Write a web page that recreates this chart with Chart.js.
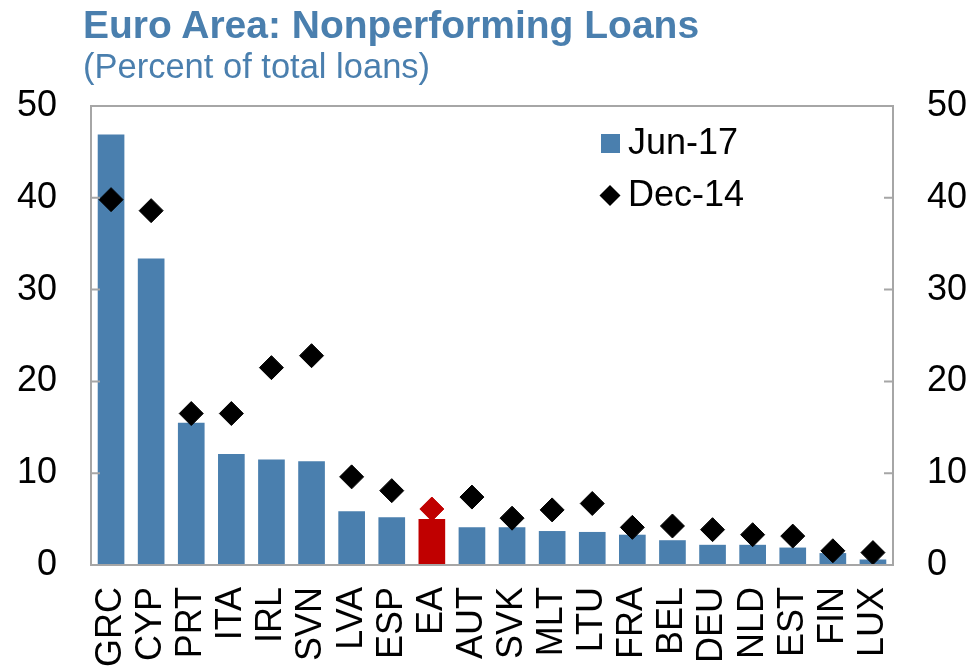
<!DOCTYPE html>
<html>
<head>
<meta charset="utf-8">
<script src="https://cdn.jsdelivr.net/npm/chart.js@4"></script>
<style>
  body { margin: 0; background: #fff; }
  #wrap { position: relative; width: 972px; height: 671px; }
  .title { position: absolute; left: 83px; font-family: "Liberation Sans", Arial, sans-serif; color: #4a7fae; line-height: 1; white-space: nowrap; }
  #t1 { top: 5px; font-size: 39px; font-weight: bold; }
  #t2 { top: 49px; font-size: 34.5px; }
</style>
</head>
<body>
<div id="wrap">
  <canvas id="nplChart" width="972" height="671"></canvas>
  <div class="title" id="t1">Euro Area: Nonperforming Loans</div>
  <div class="title" id="t2">(Percent of total loans)</div>
</div>
<script>
const categories = ['GRC', 'CYP', 'PRT', 'ITA', 'IRL', 'SVN', 'LVA', 'ESP', 'EA', 'AUT',
    'SVK', 'MLT', 'LTU', 'FRA', 'BEL', 'DEU', 'NLD', 'EST', 'FIN', 'LUX'];
const jun17 = [46.9, 33.4, 15.5, 12.1, 11.5, 11.3, 5.85, 5.2, 5.0, 4.1,
    4.1, 3.7, 3.6, 3.3, 2.7, 2.2, 2.2, 1.9, 1.3, 0.6];
const dec14 = [39.8, 38.6, 16.5, 16.5, 21.5, 22.8, 9.6, 8.1, 6.1, 7.4,
    5.1, 6.0, 6.7, 4.1, 4.25, 3.85, 3.3, 3.15, 1.55, 1.35];
const yTicks = [0, 10, 20, 30, 40, 50];

const BLUE = '#4a7fae';
const RED = '#c00000';
const FONT = '"Liberation Sans", Arial, sans-serif';

const barColors = categories.map(c => c === 'EA' ? RED : BLUE);
const pointColors = categories.map(c => c === 'EA' ? RED : '#000000');

// frame around the plot plus inward tick marks
const framePlugin = {
    id: 'frame',
    afterDraw(chart) {
        const { ctx, chartArea: a, scales } = chart;
        ctx.save();
        ctx.strokeStyle = '#a6a6a6';
        ctx.lineWidth = 2;
        ctx.strokeRect(a.left, a.top, a.right - a.left, a.bottom - a.top);
        ctx.beginPath();
        yTicks.forEach(v => {
            const y = scales.y.getPixelForValue(v);
            ctx.moveTo(a.left, y);
            ctx.lineTo(a.left + 9, y);
            ctx.moveTo(a.right, y);
            ctx.lineTo(a.right - 9, y);
        });
        ctx.stroke();
        ctx.restore();
    }
};

// legend in the upper right of the plot
const legendPlugin = {
    id: 'boxLegend',
    afterDraw(chart) {
        const { ctx } = chart;
        const ds = chart.data.datasets;
        const bar = ds.find(d => d.type === 'bar');
        const pts = ds.find(d => d.type === 'line');
        ctx.save();
        ctx.font = '36px ' + FONT;
        ctx.textBaseline = 'middle';
        ctx.fillStyle = BLUE;
        ctx.fillRect(601, 134, 19, 19);
        ctx.fillStyle = '#000';
        ctx.fillText(bar.label, 628, 144);
        ctx.beginPath();
        ctx.moveTo(610, 185);
        ctx.lineTo(620.5, 195.5);
        ctx.lineTo(610, 206);
        ctx.lineTo(599.5, 195.5);
        ctx.closePath();
        ctx.fill();
        ctx.fillText(pts.label, 628, 196);
        ctx.restore();
    }
};

const ctx = document.getElementById('nplChart').getContext('2d');

new Chart(ctx, {
    data: {
        labels: categories,
        datasets: [{
            type: 'line',
            label: 'Dec-14',
            data: dec14,
            showLine: false,
            pointStyle: 'rectRot',
            pointRadius: 12,
            pointBackgroundColor: pointColors,
            pointBorderColor: pointColors,
            pointBorderWidth: 1,
            order: 0,
        }, {
            type: 'bar',
            label: 'Jun-17',
            data: jun17,
            backgroundColor: barColors,
            barPercentage: 0.665,
            categoryPercentage: 1,
            order: 1,
        }]
    },
    options: {
        responsive: false,
        animation: false,
        layout: { padding: { top: 106, left: 0, right: 0, bottom: 0 } },
        plugins: {
            legend: { display: false },
            tooltip: { enabled: false },
        },
        scales: {
            x: {
                grid: { display: false, drawTicks: false },
                border: { display: false },
                afterFit: s => { s.height = 106; },
                ticks: {
                    color: '#000',
                    font: { family: FONT, size: 36 },
                    minRotation: 90,
                    maxRotation: 90,
                    autoSkip: false,
                    padding: 22,
                },
            },
            y: {
                position: 'left',
                min: 0,
                max: 50,
                grid: { display: false, drawTicks: false },
                border: { display: false },
                afterFit: s => { s.width = 91; },
                afterBuildTicks: s => { s.ticks = yTicks.map(v => ({ value: v })); },
                ticks: { color: '#000', font: { family: FONT, size: 36 }, padding: 34 },
            },
            y2: {
                position: 'right',
                min: 0,
                max: 50,
                grid: { display: false, drawTicks: false },
                border: { display: false },
                afterFit: s => { s.width = 79; },
                afterBuildTicks: s => { s.ticks = yTicks.map(v => ({ value: v })); },
                ticks: { color: '#000', font: { family: FONT, size: 36 }, padding: 34 },
            }
        }
    },
    plugins: [framePlugin, legendPlugin]
});
</script>
</body>
</html>
